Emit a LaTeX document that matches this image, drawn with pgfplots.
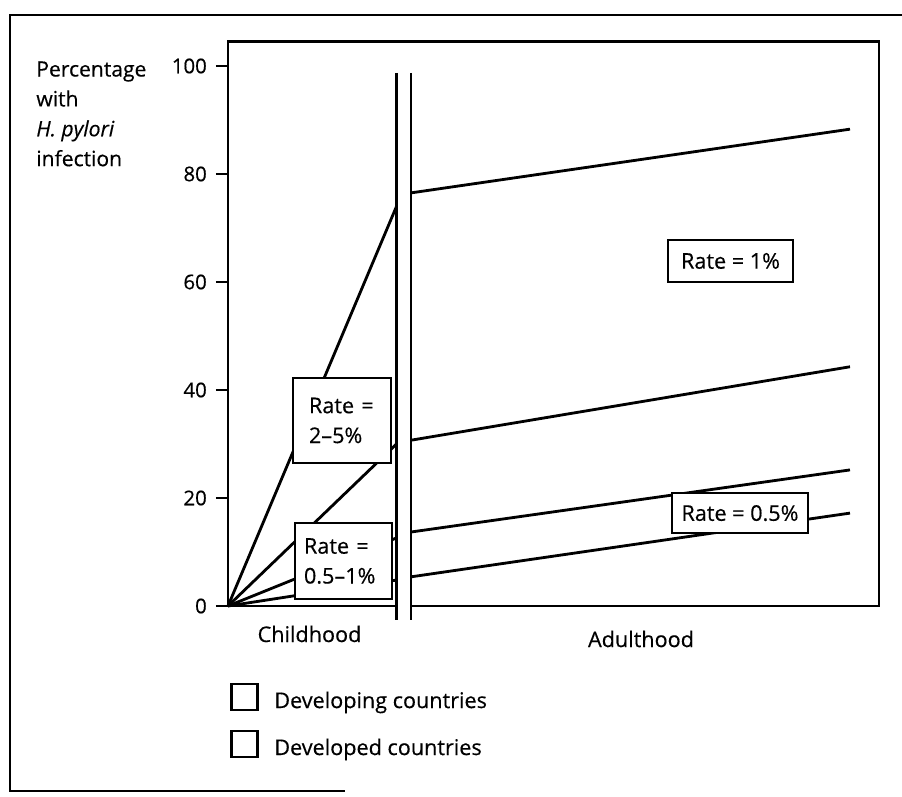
\documentclass[border=0pt]{standalone}
\usepackage{fontspec}
\setmainfont{Open Sans}[FakeBold=0.4]
\usepackage{pgfplots}
\pgfplotsset{compat=1.18}

\newcommand\chartfont{\fontsize{12.3}{17}\selectfont}
\newcommand\tickfont{\fontsize{11.6}{14}\selectfont}

\begin{document}
\begin{tikzpicture}
\begin{axis}[
  x=0.2mm, y=1.08mm,
  xmin=228, xmax=879, ymin=0, ymax=104.6,
  clip=false,
  axis line style={draw=none},
  xtick=\empty,
  ytick={0,20,40,60,80,100},
  ytick pos=left,
  tick align=outside,
  major tick length=2.4mm,
  tick style={black, line width=1.5pt},
  /pgf/number format/assume math mode=true,
  yticklabel style={font=\tickfont, xshift=-0.6mm},
  every axis plot post/.style={black, solid, line width=1.6pt, mark=none},
]
% childhood
\addplot coordinates {(228,0) (396.5,74.0)};
\addplot coordinates {(228,0) (396.5,30.0)};
\addplot coordinates {(228,0) (396.5,12.6)};
\addplot coordinates {(228,0) (396.5,4.8)};
% adulthood
\addplot coordinates {(411,76.5) (850,88.3)};
\addplot coordinates {(411,30.7) (850,44.3)};
\addplot coordinates {(411,13.7) (850,25.2)};
\addplot coordinates {(411,5.4) (850,17.2)};
% axis break
\addplot coordinates {(396.5,98.7) (396.5,-2.6)};
\addplot coordinates {(411,98.7) (411,-2.6)};

% plot frame, open between the break lines
\draw[line width=1.6pt] (axis cs:396.5,0) -- (axis cs:228,0) -- (axis cs:228,104.6)
  -- (axis cs:879,104.6) -- (axis cs:879,0) -- (axis cs:411,0);

% rate boxes
\node[draw, line width=1.4pt, fill=white, minimum width=19.6mm, minimum height=17mm,
  inner xsep=3.2mm, text width=13.2mm, align=left, font=\chartfont]
  at (axis cs:342,34.35) {Rate =\\2–5\%};
\node[draw, line width=1.4pt, fill=white, minimum width=19.4mm, minimum height=15.2mm,
  inner xsep=1.8mm, text width=15.8mm, align=left, font=\chartfont]
  at (axis cs:343.5,8.33) {Rate =\\0.5–1\%};
\node[draw, line width=1.4pt, fill=white, minimum width=25mm, minimum height=8.4mm,
  font=\chartfont] at (axis cs:730.5,63.9) {Rate = 1\%};
\node[draw, line width=1.4pt, fill=white, minimum width=27.2mm, minimum height=8mm,
  font=\chartfont] at (axis cs:740,17.2) {Rate = 0.5\%};

% axis texts
\node[anchor=north west, inner sep=0pt, align=left, font=\fontsize{12}{17}\selectfont]
  at (axis cs:36,100.9) {Percentage\\with\\\textit{H. pylori}\\infection};
\node[anchor=base, font=\chartfont] at (axis cs:309.5,-6.67) {Childhood};
\node[anchor=base, font=\chartfont] at (axis cs:641,-7.6) {Adulthood};

% key
\node[draw, line width=1.4pt, minimum size=5.2mm, inner sep=0pt] at (axis cs:244.5,-16.85) {};
\node[draw, line width=1.4pt, minimum size=5.2mm, inner sep=0pt] at (axis cs:244.5,-25.56) {};
\node[anchor=base west, inner sep=0pt, font=\chartfont] at (axis cs:274,-18.9) {Developing countries};
\node[anchor=base west, inner sep=0pt, font=\chartfont] at (axis cs:274,-27.6) {Developed countries};

% outer frame
\draw[line width=1.5pt] (axis cs:902,109.44) -- (axis cs:10,109.44) -- (axis cs:10,-34.26)
  -- (axis cs:345,-34.26);

\coordinate (bbll) at (axis cs:0,-35.19);
\coordinate (bbur) at (axis cs:902,112.22);
\end{axis}
\pgfresetboundingbox
\useasboundingbox (bbll) rectangle (bbur);
\end{tikzpicture}
\end{document}
